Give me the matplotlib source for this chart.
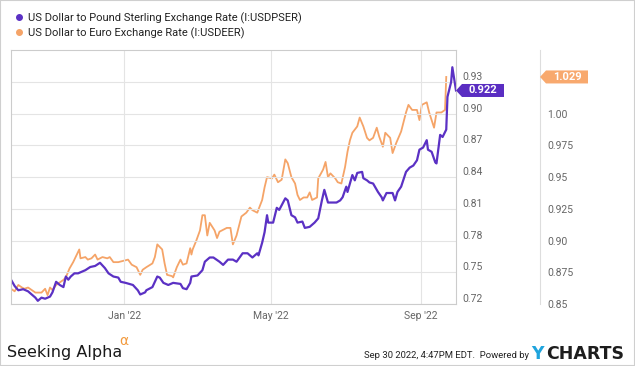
import pandas as pd
import matplotlib.pyplot as plt
import matplotlib.dates as mdates
import matplotlib.transforms as mtransforms
from matplotlib.patches import Polygon, Rectangle
from matplotlib.lines import Line2D

plt.rcParams['font.family'] = ['Roboto', 'DejaVu Sans']

# data (days counted from the first date)
start = pd.Timestamp('2021-09-30')
end = pd.Timestamp('2022-09-30')

gbp_days = [0, 3, 6, 10, 14, 20, 22, 25, 28, 32,
            34, 37, 40, 43, 45, 47, 49, 52, 55, 57,
            61, 65, 69, 73, 77, 80, 84, 88, 90, 94,
            100, 104, 106, 110, 111, 116, 120, 122, 125, 129,
            133, 139, 141, 144, 147, 148, 153, 157, 159, 163,
            166, 171, 174, 178, 182, 185, 190, 194, 198, 202,
            203, 206, 208, 210, 211, 215, 218, 220, 225, 227,
            230, 233, 235, 239, 241, 245, 249, 252, 255, 257,
            260, 264, 267, 270, 272, 275, 276, 280, 282, 284,
            288, 289, 292, 294, 297, 301, 304, 305, 308, 313,
            315, 317, 320, 324, 327, 330, 333, 335, 338, 341,
            342, 345, 348, 349, 352, 354, 357, 358, 361, 362,
            365]
gbp_vals = [0.743, 0.737, 0.733, 0.734, 0.732, 0.726, 0.723, 0.726, 0.725, 0.727,
            0.731, 0.741, 0.738, 0.736, 0.746, 0.743, 0.746, 0.749, 0.749, 0.750,
            0.752, 0.755, 0.756, 0.759, 0.754, 0.749, 0.746, 0.745, 0.741, 0.740,
            0.738, 0.733, 0.729, 0.731, 0.733, 0.736, 0.746, 0.745, 0.740, 0.738,
            0.740, 0.739, 0.735, 0.734, 0.740, 0.746, 0.747, 0.752, 0.760, 0.764,
            0.764, 0.760, 0.757, 0.762, 0.762, 0.760, 0.768, 0.768, 0.764, 0.768,
            0.766, 0.778, 0.788, 0.804, 0.797, 0.797, 0.811, 0.809, 0.820, 0.818,
            0.804, 0.802, 0.797, 0.798, 0.792, 0.793, 0.797, 0.801, 0.818, 0.828,
            0.816, 0.816, 0.816, 0.818, 0.821, 0.831, 0.826, 0.842, 0.837, 0.844,
            0.845, 0.839, 0.837, 0.835, 0.834, 0.826, 0.821, 0.818, 0.825, 0.825,
            0.818, 0.826, 0.831, 0.845, 0.849, 0.851, 0.856, 0.866, 0.868, 0.875,
            0.866, 0.864, 0.854, 0.853, 0.880, 0.878, 0.885, 0.916, 0.930, 0.944,
            0.922]

eur_days = [0, 3, 6, 9, 11, 14, 17, 20, 25, 28,
            30, 32, 34, 37, 40, 43, 45, 48, 51, 53,
            56, 57, 61, 63, 66, 69, 71, 75, 79, 81,
            84, 88, 92, 96, 99, 103, 106, 108, 111, 116,
            118, 120, 124, 126, 128, 132, 133, 136, 139, 141,
            144, 147, 148, 149, 152, 155, 157, 159, 161, 163,
            167, 169, 171, 177, 180, 182, 185, 188, 189, 193,
            196, 198, 202, 206, 208, 210, 214, 216, 219, 222,
            225, 227, 230, 233, 235, 237, 240, 243, 245, 247,
            251, 252, 256, 258, 260, 262, 266, 268, 271, 274,
            276, 278, 280, 284, 286, 289, 292, 294, 297, 300,
            302, 305, 307, 311, 313, 316, 320, 324, 326, 329,
            333, 335, 337, 341, 343, 347, 349, 353, 356, 357]
eur_vals = [0.862, 0.860, 0.865, 0.863, 0.862, 0.863, 0.861, 0.859, 0.859, 0.862,
            0.857, 0.863, 0.861, 0.865, 0.867, 0.869, 0.871, 0.878, 0.883, 0.887,
            0.893, 0.886, 0.887, 0.885, 0.886, 0.889, 0.885, 0.887, 0.886, 0.887,
            0.883, 0.883, 0.884, 0.885, 0.881, 0.879, 0.873, 0.877, 0.879, 0.882,
            0.887, 0.897, 0.893, 0.882, 0.873, 0.872, 0.871, 0.879, 0.885, 0.881,
            0.882, 0.894, 0.889, 0.893, 0.900, 0.908, 0.920, 0.920, 0.904, 0.914,
            0.908, 0.902, 0.907, 0.910, 0.910, 0.897, 0.904, 0.915, 0.919, 0.922,
            0.926, 0.924, 0.922, 0.932, 0.942, 0.950, 0.949, 0.952, 0.946, 0.948,
            0.964, 0.961, 0.950, 0.945, 0.936, 0.932, 0.934, 0.934, 0.938, 0.932,
            0.934, 0.949, 0.956, 0.962, 0.950, 0.953, 0.949, 0.946, 0.945, 0.958,
            0.970, 0.979, 0.985, 0.990, 0.997, 0.990, 0.981, 0.979, 0.981, 0.989,
            0.982, 0.974, 0.985, 0.981, 0.969, 0.977, 0.986, 1.001, 1.007, 1.003,
            1.003, 0.995, 1.007, 1.009, 1.001, 0.989, 1.001, 1.001, 1.003, 1.029]

gbp_label = "US Dollar to Pound Sterling Exchange Rate (I:USDPSER)"
eur_label = "US Dollar to Euro Exchange Rate (I:USDEER)"
gbp_ticks = [0.72, 0.75, 0.78, 0.81, 0.84, 0.87, 0.90, 0.93]
gbp_tick_labels = ["0.72", "0.75", "0.78", "0.81", "0.84", "0.87", "0.90", "0.93"]
eur_ticks = [0.85, 0.875, 0.90, 0.925, 0.95, 0.975, 1.00]
eur_tick_labels = ["0.85", "0.875", "0.90", "0.925", "0.95", "0.975", "1.00"]
month_ticks = ['2022-01-01', '2022-05-01', '2022-09-01']

purple = '#5b31c4'
orange = '#f5a468'
grey_txt = '#666666'

gbp_dates = start + pd.to_timedelta(gbp_days, unit='D')
eur_dates = start + pd.to_timedelta(eur_days, unit='D')

fig = plt.figure(figsize=(6.35, 3.66), dpi=100)
ax = fig.add_axes([11 / 635, 62 / 366, 445 / 635, 254 / 366])
ax2 = ax.twinx()

# axis ranges: both scales share gridlines (0.03 <-> 0.025)
lo, hi = 0.72, 0.9603
ax.set_ylim(lo, hi)
ax2.set_ylim(0.85, 0.85 + (hi - lo) * 0.025 / 0.03)
ax.set_xlim(start, end)

ax2.plot(eur_dates, eur_vals, color=orange, lw=1.3)
ax.plot(gbp_dates, gbp_vals, color=purple, lw=1.6)
ax.set_zorder(ax2.get_zorder() + 1)
ax.patch.set_visible(False)

# ticks
ax.set_xticks(pd.to_datetime(month_ticks))
ax.xaxis.set_major_formatter(mdates.DateFormatter("%b '%y"))
ax.yaxis.tick_right()
ax.set_yticks(gbp_ticks, gbp_tick_labels)
ax.tick_params(axis='y', length=0, pad=4.5, labelsize=7.5, labelcolor=grey_txt)
ax.tick_params(axis='x', length=0, pad=5, labelsize=7.5, labelcolor=grey_txt)
for lab in ax.get_yticklabels():
    lab.set_va('bottom')
ax.grid(True, color='#e4e4e4', lw=0.8)

for s in ax.spines.values():
    s.set_color('#cccccc')
    s.set_linewidth(0.8)

ax2.set_yticks(eur_ticks, eur_tick_labels)
ax2.tick_params(axis='y', length=0, pad=5, labelsize=7.5, labelcolor=grey_txt)
for lab in ax2.get_yticklabels():
    lab.set_va('bottom')
for side in ['left', 'top', 'bottom']:
    ax2.spines[side].set_visible(False)
ax2.spines['right'].set_position(('outward', 84 * 0.72))
ax2.spines['right'].set_color('#dddddd')
ax2.spines['right'].set_linewidth(0.8)


# value tags at the last points
def value_tag(axis, value, color, shift_px):
    dpi = fig.dpi
    anchor = mtransforms.blended_transform_factory(axis.transAxes, axis.transData)
    tr = fig.dpi_scale_trans + mtransforms.ScaledTranslation(1.0, value, anchor)
    s, tip, w, h = shift_px / dpi, 6 / dpi, 48 / dpi, 6.5 / dpi
    verts = [(s, 0), (s + tip, h), (s + w, h), (s + w, -h), (s + tip, -h)]
    fig.add_artist(Polygon(verts, closed=True, transform=tr, fc=color,
                           ec='none', clip_on=False, zorder=5))
    fig.text(s + tip + (w - tip) / 2, 0, f"{value:.3f}", transform=tr,
             ha='center', va='center', color='white', fontsize=8,
             fontweight='bold', zorder=6)


value_tag(ax, gbp_vals[-1], '#5a2dc2', 0)
value_tag(ax2, eur_vals[-1], '#f8a96e', 84)

# legend
handles = [Line2D([], [], marker='o', ls='none', ms=4, color=purple),
           Line2D([], [], marker='o', ls='none', ms=4, color=orange)]
fig.legend(handles, [gbp_label, eur_label], loc='upper left',
           bbox_to_anchor=(8 / 635, 1 - 8 / 366), frameon=False, fontsize=8,
           handletextpad=0.2, labelspacing=0.3, borderaxespad=0,
           handlelength=1.2, labelcolor='#222222')

# footer
fig.text(7 / 635, 1 - 352 / 366, "Seeking Alpha", fontsize=11.5, va='center',
         color='#1a1a1a', family=['DejaVu Sans'])
fig.text(119 / 635, 1 - 341 / 366, "\u03b1", fontsize=10, va='center',
         color='#f29a3e', family=['DejaVu Sans'])
fig.text(529 / 635, 1 - 355 / 366, "Sep 30 2022, 4:47PM EDT.  Powered by",
         fontsize=6.8, ha='right', va='center', color='#222222')
fig.text(531 / 635, 1 - 354 / 366, "Y", fontsize=12.5, fontweight='bold',
         va='center', color='#1fa4dd', family=['DejaVu Sans'])
fig.text(546 / 635, 1 - 354 / 366, "CHARTS", fontsize=12.5, fontweight='bold',
         va='center', color='#1d1d1d', family=['DejaVu Sans'])

fig.add_artist(Rectangle((0, 0), 1, 1, transform=fig.transFigure, fill=False,
                         ec='#cfcfcf', lw=1.5))

fig.savefig("out.png", dpi=100)
